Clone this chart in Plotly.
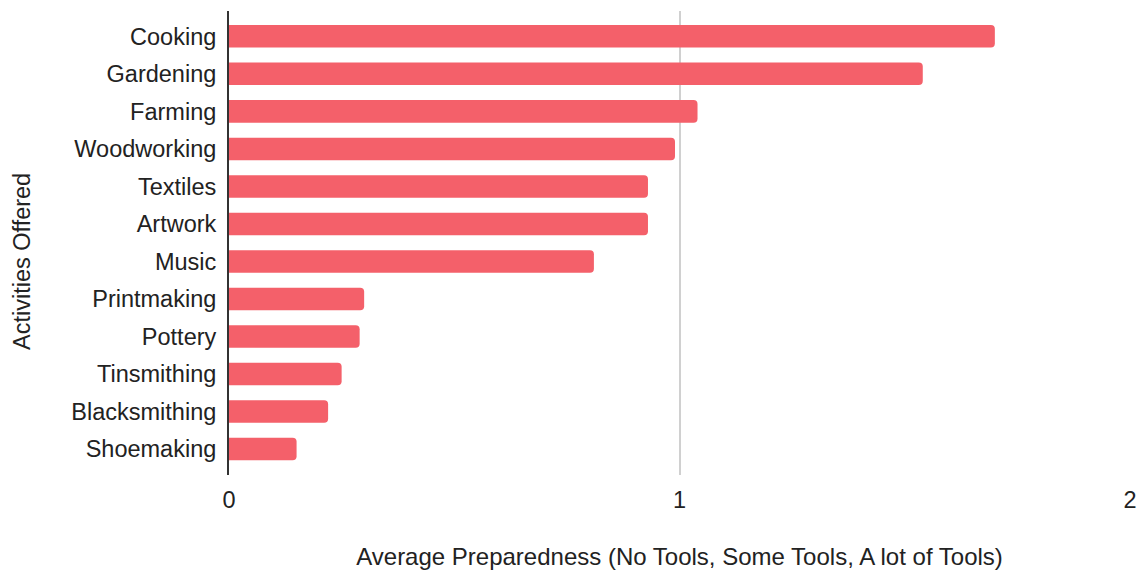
import plotly.graph_objects as go

activities = ["Cooking", "Gardening", "Farming", "Woodworking", "Textiles", "Artwork",
              "Music", "Printmaking", "Pottery", "Tinsmithing", "Blacksmithing", "Shoemaking"]
preparedness = [1.70, 1.54, 1.04, 0.99, 0.93, 0.93, 0.81, 0.30, 0.29, 0.25, 0.22, 0.15]
x_ticks = [0, 1, 2]

FONT = "Liberation Sans, Arial, sans-serif"
FS = 23.5
TXT = "#222222"

fig = go.Figure(go.Bar(
    x=preparedness,
    y=activities,
    orientation="h",
    marker=dict(color="#F4606A", line=dict(width=0)),
    width=0.6,
))

fig.update_layout(
    width=1139,
    height=572,
    margin=dict(l=229, r=9, t=11, b=97, autoexpand=False),
    paper_bgcolor="white",
    plot_bgcolor="white",
    barcornerradius=4,
    showlegend=False,
    font=dict(family=FONT, size=FS, color=TXT),
    xaxis=dict(
        range=[0, 2],
        tickvals=x_ticks,
        ticktext=[str(t) for t in x_ticks],
        showgrid=True,
        gridcolor="#D0D0D0",
        gridwidth=2,
        zeroline=False,
        showline=False,
        ticks="",
        automargin=False,
        ticklabelstandoff=8,
        tickfont=dict(family=FONT, size=FS, color=TXT),
        title=dict(text="Average Preparedness (No Tools, Some Tools, A lot of Tools)",
                   font=dict(family=FONT, size=24, color=TXT), standoff=36),
    ),
    yaxis=dict(
        type="category",
        categoryorder="array",
        categoryarray=activities,
        range=[11.69, -0.675],
        showgrid=False,
        zeroline=False,
        showline=True,
        linecolor="#333333",
        linewidth=2,
        ticks="",
        automargin=False,
        ticklabelstandoff=6,
        tickfont=dict(family=FONT, size=FS, color=TXT),
    ),
    annotations=[dict(
        text="Activities Offered",
        xref="paper", yref="paper",
        x=-207 / 901, y=(475 - 262) / 464,
        xanchor="center", yanchor="middle",
        textangle=-90, showarrow=False,
        font=dict(family=FONT, size=FS, color=TXT),
    )],
)

fig.write_html("out.html")
